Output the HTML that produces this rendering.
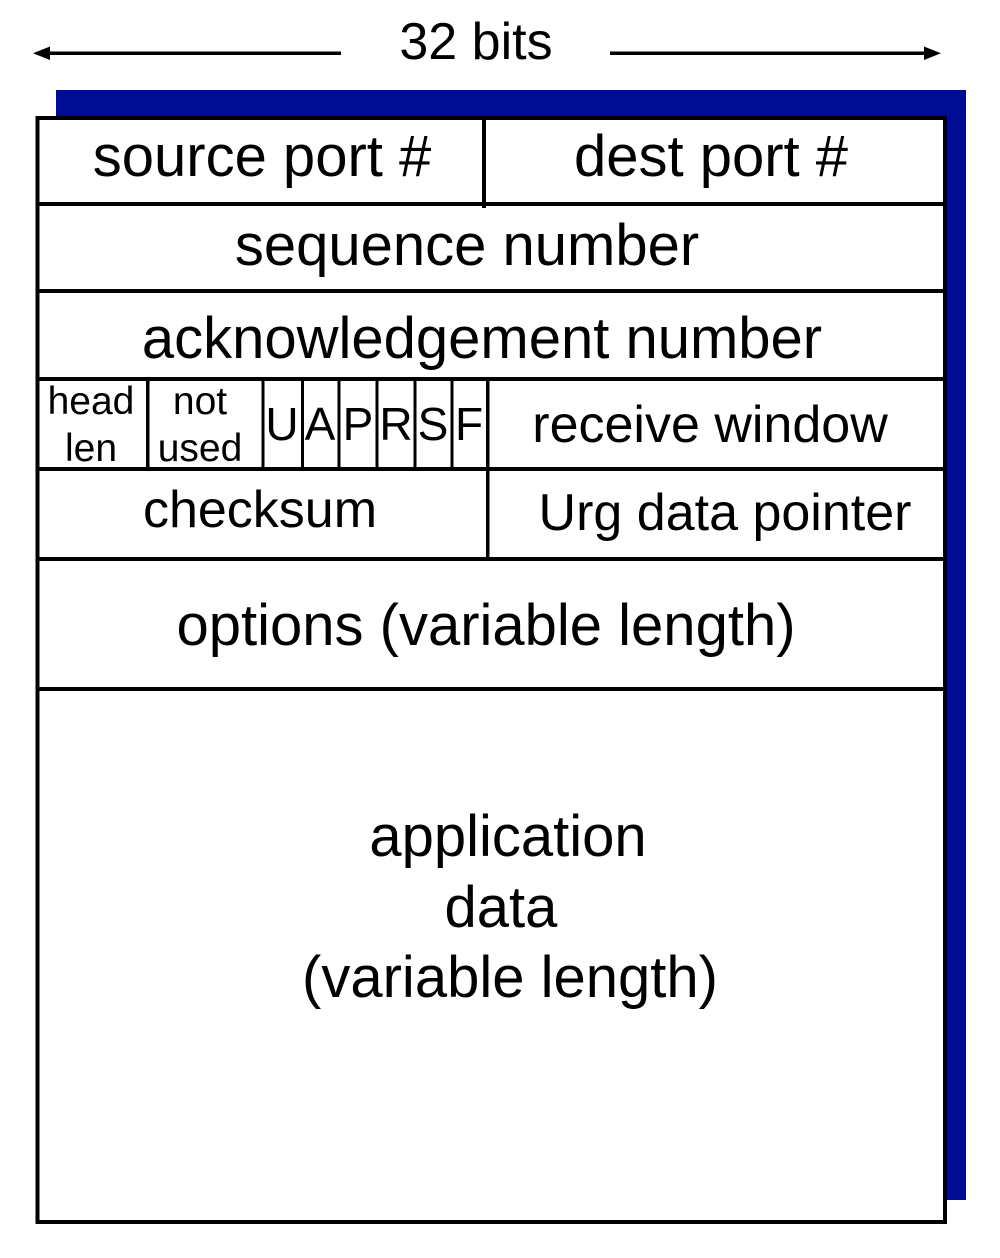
<!DOCTYPE html>
<html>
<head>
<meta charset="utf-8">
<style>
  html, body { margin: 0; padding: 0; background: #ffffff; }
  body { width: 1000px; height: 1258px; overflow: hidden; }
  svg { display: block; }
  text { font-family: "Liberation Sans", Arial, Helvetica, sans-serif; fill: #000; }
</style>
</head>
<body>
<svg width="1000" height="1258" viewBox="0 0 1000 1258" xmlns="http://www.w3.org/2000/svg">
  <!-- 32 bits header with arrows -->
  <text x="476" y="59" font-size="52" text-anchor="middle">32 bits</text>
  <rect x="48" y="51.5" width="293" height="3.5" fill="#000"/>
  <polygon points="33,53.2 50,46.5 50,60" fill="#000"/>
  <rect x="610" y="51.5" width="316" height="3.5" fill="#000"/>
  <polygon points="941,53.2 924,46.5 924,60" fill="#000"/>

  <!-- blue shadow -->
  <rect x="56" y="90" width="910" height="1110" fill="#000c94"/>

  <!-- main box -->
  <rect x="37.5" y="118" width="907.5" height="1104" fill="#ffffff" stroke="#000" stroke-width="4"/>

  <!-- horizontal row lines -->
  <g fill="#000">
    <rect x="37" y="202" width="908" height="4"/>
    <rect x="37" y="289" width="908" height="4"/>
    <rect x="37" y="377" width="908" height="4"/>
    <rect x="37" y="467" width="908" height="4"/>
    <rect x="37" y="557" width="908" height="4"/>
    <rect x="37" y="687" width="908" height="4"/>
  </g>

  <!-- vertical dividers -->
  <g fill="#000">
    <rect x="482" y="118" width="4" height="90"/>
    <rect x="146" y="379" width="3.5" height="90"/>
    <rect x="261.5" y="379" width="3" height="90"/>
    <rect x="301" y="379" width="3" height="90"/>
    <rect x="337.5" y="379" width="3" height="90"/>
    <rect x="375.5" y="379" width="3" height="90"/>
    <rect x="413.5" y="379" width="3" height="90"/>
    <rect x="450.5" y="381" width="3" height="86"/>
    <rect x="486" y="379" width="3.5" height="180"/>
  </g>

  <!-- row 1 -->
  <text x="262" y="176" font-size="58" text-anchor="middle">source port #</text>
  <text x="711" y="176" font-size="58" text-anchor="middle">dest port #</text>

  <!-- row 2 -->
  <text x="467" y="265" font-size="58" text-anchor="middle">sequence number</text>

  <!-- row 3 -->
  <text x="482" y="358" font-size="58" text-anchor="middle">acknowledgement number</text>

  <!-- row 4 -->
  <text x="91" y="414" font-size="39" text-anchor="middle">head</text>
  <text x="91" y="461" font-size="39" text-anchor="middle">len</text>
  <text x="200" y="414" font-size="39" text-anchor="middle">not</text>
  <text x="200" y="461" font-size="39" text-anchor="middle">used</text>
  <text x="282" y="440" font-size="46" text-anchor="middle">U</text>
  <text x="320" y="440" font-size="46" text-anchor="middle">A</text>
  <text x="358" y="440" font-size="46" text-anchor="middle">P</text>
  <text x="396" y="440" font-size="46" text-anchor="middle">R</text>
  <text x="433" y="440" font-size="46" text-anchor="middle">S</text>
  <text x="469" y="440" font-size="46" text-anchor="middle">F</text>
  <text x="710" y="442" font-size="52" text-anchor="middle">receive window</text>

  <!-- row 5 -->
  <text x="260" y="527" font-size="52" text-anchor="middle">checksum</text>
  <text x="725" y="530" font-size="52" text-anchor="middle">Urg data pointer</text>

  <!-- options -->
  <text x="486" y="645" font-size="58" text-anchor="middle">options (variable length)</text>

  <!-- application data -->
  <text x="508" y="856" font-size="58" text-anchor="middle">application</text>
  <text x="501" y="927" font-size="58" text-anchor="middle">data</text>
  <text x="510" y="997" font-size="58" text-anchor="middle">(variable length)</text>
</svg>
</body>
</html>
